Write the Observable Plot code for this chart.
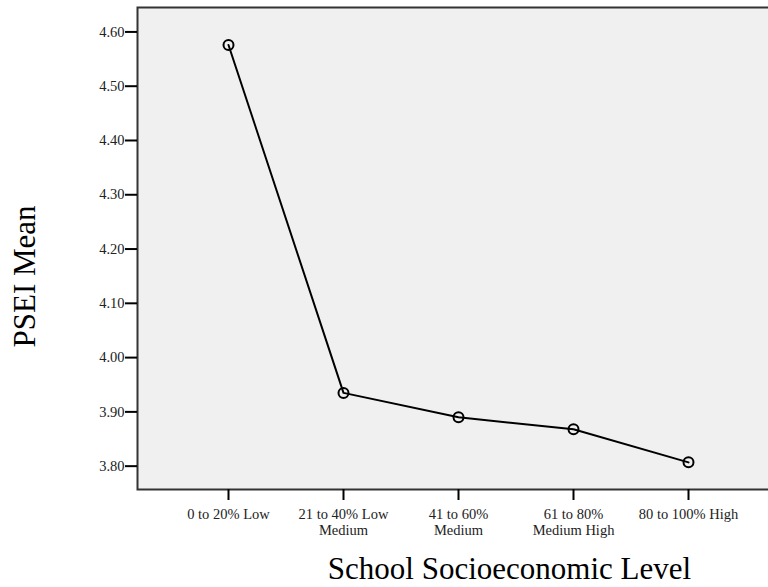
<!DOCTYPE html>
<html>
<head>
<meta charset="utf-8">
<script src="https://cdn.jsdelivr.net/npm/d3@7"></script>
<script src="https://cdn.jsdelivr.net/npm/@observablehq/plot@0.6"></script>
<style>
  html, body { margin: 0; padding: 0; background: #fff; }
  #chart svg { display: block; }
  #chart g[aria-label="y-axis tick"], #chart g[aria-label="x-axis tick"] { stroke-width: 2px; stroke: #000; }
  #chart g[aria-label="y-axis tick label"], #chart g[aria-label="x-axis tick label"] { font-size: 14.5px; fill: #222; }
</style>
</head>
<body>
<div id="chart"></div>
<script>
const categories = ["0 to 20% Low", "21 to 40% Low Medium", "41 to 60% Medium", "61 to 80% Medium High", "80 to 100% High"];
const tickLabels = ["0 to 20% Low", "21 to 40% Low\nMedium", "41 to 60%\nMedium", "61 to 80%\nMedium High", "80 to 100% High"];
const means = [4.576, 3.935, 3.890, 3.868, 3.807];
const yTicks = [3.8, 3.9, 4.0, 4.1, 4.2, 4.3, 4.4, 4.5, 4.6];
const xTitle = "School Socioeconomic Level";
const yTitle = "PSEI Mean";

const data = categories.map((c, i) => ({cat: c, mean: means[i]}));
const labelOf = new Map(categories.map((c, i) => [c, tickLabels[i]]));

const chart = Plot.plot({
  width: 768,
  height: 587,
  marginLeft: 137,
  marginRight: -3,
  marginTop: 7,
  marginBottom: 98,
  style: {fontFamily: "'Liberation Serif', 'Times New Roman', serif", background: "#fff", color: "#000", fontSize: "14.5px"},
  x: {type: "point", domain: categories, padding: 0, insetLeft: 90, insetRight: 83},
  y: {domain: [3.757, 4.645]},
  marks: [
    Plot.frame({fill: "#f0f0f0", stroke: "none"}),
    Plot.frame({stroke: "#333", strokeWidth: 2}),
    Plot.axisY({ticks: yTicks, tickFormat: d3.format(".2f"), tickSize: 12, tickPadding: 1, fontSize: 14.5, label: null}),
    Plot.axisX({tickFormat: d => labelOf.get(d), tickSize: 11, tickPadding: 7, fontSize: 14.5, label: null, lineAnchor: "top", lineHeight: 1.1}),
    Plot.line(data, {x: "cat", y: "mean", stroke: "#000", strokeWidth: 2}),
    Plot.dot(data, {x: "cat", y: "mean", r: 5, stroke: "#000", strokeWidth: 2, fill: "none"}),
    Plot.text([yTitle], {frameAnchor: "left", textAnchor: "middle", lineAnchor: "middle", dx: -112, dy: 28, rotate: -90, fontSize: 31, fill: "#000"}),
    Plot.text([xTitle], {frameAnchor: "bottom", dx: 55, dy: 80, lineAnchor: "middle", fontSize: 31, fill: "#000"})
  ]
});
document.getElementById("chart").appendChild(chart);
</script>
</body>
</html>
